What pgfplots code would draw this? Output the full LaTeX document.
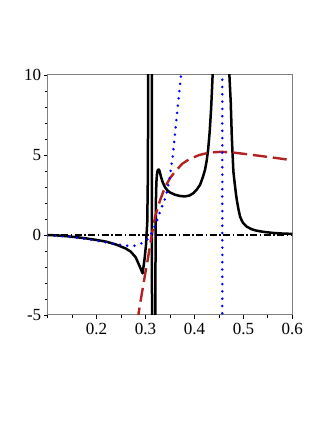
\documentclass[border=0pt]{standalone}
\usepackage{fontspec}
\setmainfont{Liberation Serif}
\usepackage{pgfplots}
\pgfplotsset{compat=1.18}
\definecolor{mapleblue}{RGB}{0,0,255}
\definecolor{maplebrown}{RGB}{178,34,34}
\begin{document}
\begin{tikzpicture}
\useasboundingbox (-47.7pt,-108pt) rectangle (279.3pt,315pt);
\begin{axis}[
    at={(0,0)}, anchor=south west,
    scale only axis,
    width=244.6pt, height=240pt,
    xmin=0.1, xmax=0.6,
    ymin=-5, ymax=10,
    axis line style={gray, line width=1pt},
    tick style={black, line width=0.8pt},
    tick align=outside,
    xtick pos=left, ytick pos=left,
    major tick length=4pt, minor tick length=2.5pt,
    xtick={0.2,0.3,0.4,0.5,0.6},
    minor xtick={0.1,0.15,0.25,0.35,0.45,0.55},
    ytick={-5,0,5,10},
    minor ytick={-4,-3,-2,-1,1,2,3,4,6,7,8,9},
    xticklabel style={/pgf/number format/fixed, /pgf/number format/precision=1},
    /pgf/number format/assume math mode=true,
    tick label style={font=\fontsize{17}{20}\selectfont},
    xticklabel style={yshift=-1pt},
    yticklabel style={xshift=1pt},
]
% black solid
\addplot[black, line width=2.5pt, line join=round] coordinates {
(0.1,0) (0.12,-0.03) (0.14,-0.08) (0.16,-0.14) (0.18,-0.22) (0.2,-0.31)
(0.22,-0.42) (0.24,-0.6) (0.26,-0.85) (0.27,-1.05) (0.28,-1.4) (0.285,-1.75)
(0.29,-2.1) (0.294,-2.4) (0.298,-1.5) (0.301,-0.6) (0.3035,0.8) (0.3045,3)
(0.3052,7) (0.3056,15) (0.3128,15) (0.3133,-8) (0.3196,-8) (0.3200,-5)
(0.3203,-2) (0.3207,0) (0.321,1.5) (0.3215,2.6) (0.3222,3.3) (0.3232,3.75)
(0.3245,4.0) (0.326,4.1) (0.3275,4.08) (0.329,3.95) (0.3315,3.65) (0.335,3.3)
(0.34,2.98) (0.345,2.78) (0.35,2.66) (0.36,2.52) (0.37,2.44) (0.38,2.41)
(0.39,2.47) (0.398,2.62) (0.405,2.85) (0.4115,3.14) (0.417,3.6) (0.4217,4.09)
(0.425,4.65) (0.428,5.35) (0.431,6.4) (0.434,7.86) (0.436,9.2) (0.4374,10.2)
(0.439,11.5) (0.441,14) (0.442,15)
(0.466,15) (0.469,12) (0.4714,10) (0.4742,8.28) (0.4763,6.18) (0.478,5.0)
(0.4796,3.95) (0.482,3.3) (0.4845,2.65) (0.4865,2.2) (0.49,1.6) (0.4933,1.15)
(0.497,0.88) (0.50,0.73) (0.507,0.52) (0.517,0.36) (0.527,0.27) (0.54,0.2)
(0.56,0.13) (0.58,0.09) (0.6,0.07)
};
% brown dashed
\addplot[maplebrown, line width=2.4pt, dash pattern=on 14pt off 6pt] coordinates {
(0.283,-5.4) (0.2853,-5) (0.290,-4.1) (0.295,-3.2) (0.300,-2.3) (0.305,-1.45)
(0.3127,0) (0.320,1.2) (0.33,2.2) (0.34,3.0) (0.35,3.55) (0.36,3.95)
(0.375,4.45) (0.39,4.75) (0.41,5.0) (0.43,5.15) (0.455,5.2) (0.48,5.15)
(0.51,5.04) (0.54,4.92) (0.57,4.8) (0.6,4.67)
};
% blue dotted
\addplot[mapleblue, line width=2.8pt, line cap=round, dash pattern=on 0pt off 7.3pt] coordinates {
(0.1,0) (0.12,-0.05) (0.14,-0.1) (0.16,-0.17) (0.18,-0.25) (0.2,-0.35)
(0.22,-0.46) (0.24,-0.58) (0.26,-0.66) (0.275,-0.69) (0.285,-0.62)
(0.295,-0.48) (0.303,-0.3) (0.308,-0.12) (0.314,0.2) (0.3229,0.84)
(0.3297,1.47) (0.3364,1.99) (0.342,2.45) (0.3487,3.46) (0.3556,4.92)
(0.365,7.75) (0.3726,10) (0.376,11.2) (0.38,12.5) (0.457,12.5) (0.457,-6)
};
% dash-dot zero line
\addplot[black, line width=1.3pt, dash pattern=on 7pt off 2.5pt on 1.5pt off 2.5pt] coordinates {
(0.1,0) (0.6,0)
};
\end{axis}
\end{tikzpicture}
\end{document}
